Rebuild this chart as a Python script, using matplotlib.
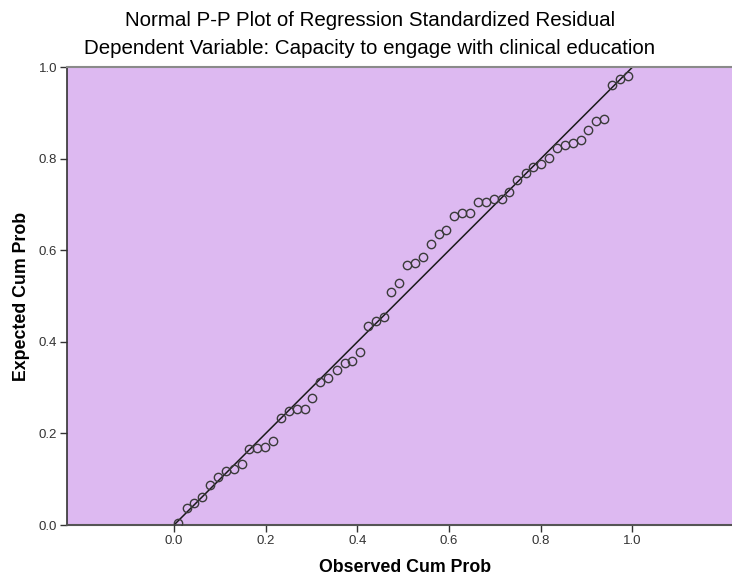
import numpy as np
import matplotlib
matplotlib.use("Agg")
import matplotlib.pyplot as plt

# observed / expected cumulative probabilities
observed = [0.009, 0.028, 0.044, 0.062, 0.079, 0.096, 0.114, 0.130, 0.148, 0.164,
            0.182, 0.199, 0.217, 0.234, 0.251, 0.268, 0.285, 0.302, 0.319, 0.337,
            0.355, 0.372, 0.388, 0.406, 0.423, 0.440, 0.458, 0.474, 0.491, 0.508,
            0.526, 0.543, 0.560, 0.578, 0.594, 0.612, 0.629, 0.646, 0.663, 0.681,
            0.698, 0.715, 0.732, 0.749, 0.767, 0.784, 0.801, 0.819, 0.836, 0.853,
            0.870, 0.887, 0.904, 0.921, 0.938, 0.956, 0.973, 0.991]
expected = [0.004, 0.038, 0.047, 0.061, 0.088, 0.105, 0.117, 0.122, 0.133, 0.165,
            0.168, 0.171, 0.183, 0.233, 0.250, 0.253, 0.253, 0.277, 0.312, 0.322,
            0.339, 0.353, 0.358, 0.379, 0.434, 0.446, 0.455, 0.508, 0.529, 0.567,
            0.573, 0.585, 0.615, 0.635, 0.645, 0.675, 0.682, 0.682, 0.706, 0.706,
            0.713, 0.713, 0.728, 0.754, 0.770, 0.783, 0.789, 0.802, 0.824, 0.830,
            0.835, 0.841, 0.863, 0.883, 0.888, 0.961, 0.974, 0.981]
ticks = [0.0, 0.2, 0.4, 0.6, 0.8, 1.0]
tick_labels = ["0.0", "0.2", "0.4", "0.6", "0.8", "1.0"]

plt.rcParams['font.family'] = ['Liberation Sans', 'DejaVu Sans']

fig = plt.figure(figsize=(7.32, 5.83), dpi=100)
ax = fig.add_axes([67/732, 1-525/583, 1-67/732, (525-67.3)/583])
ax.set_facecolor('#DDB9F1')

ax.plot([0, 1], [0, 1], color='#1a1a1a', lw=1.1, zorder=2)
ax.plot(observed, expected, 'o', mfc='none', mec='#3a3a3a', mew=1.0, ms=6, zorder=3)

ax.set_xlim(-0.2335, 1.2175)
ax.set_ylim(0, 1)
ax.set_xticks(ticks)
ax.set_xticklabels(tick_labels)
ax.set_yticks(ticks)
ax.set_yticklabels(tick_labels)
ax.tick_params(axis='both', direction='out', length=5, width=1.0, color='#333333',
               labelsize=9.5, labelcolor='#333333', pad=2)

ax.spines['right'].set_visible(False)
ax.spines['top'].set_color('#8a8a8a')
ax.spines['top'].set_linewidth(1.5)
ax.spines['left'].set_color('#333333')
ax.spines['left'].set_linewidth(1.2)
ax.spines['bottom'].set_color('#555555')
ax.spines['bottom'].set_linewidth(1.5)

ax.set_xlabel('Observed Cum Prob', fontsize=12.8, fontweight='bold')
ax.xaxis.set_label_coords(0.508, -0.074)
ax.set_ylabel('Expected Cum Prob', fontsize=12.8, fontweight='bold', labelpad=6)

fig.text(0.505, 1-21/583, 'Normal P-P Plot of Regression Standardized Residual',
         ha='center', va='center', fontsize=14.8)
fig.text(0.505, 1-49/583, 'Dependent Variable: Capacity to engage with clinical education',
         ha='center', va='center', fontsize=14.8)

fig.savefig('out.png', dpi=100, facecolor='white')
